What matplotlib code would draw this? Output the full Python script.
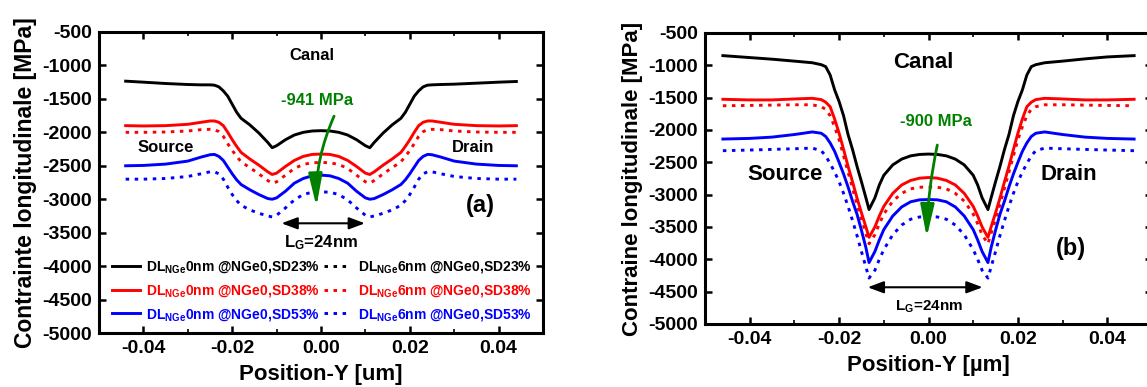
import matplotlib
matplotlib.use("Agg")
import matplotlib.pyplot as plt
from matplotlib.lines import Line2D
from matplotlib.ticker import MultipleLocator

plt.rcParams['font.family'] = ['Liberation Sans', 'DejaVu Sans']
plt.rcParams['font.weight'] = 'bold'
plt.rcParams['axes.unicode_minus'] = False
plt.rcParams['mathtext.fontset'] = 'custom'
plt.rcParams['mathtext.rm'] = 'Liberation Sans:bold'
plt.rcParams['mathtext.bf'] = 'Liberation Sans:bold'
plt.rcParams['mathtext.it'] = 'Liberation Sans:bold'
plt.rcParams['mathtext.default'] = 'rm'

# ---------------- data: panel (a) ----------------
xA = [-0.044, -0.040, -0.035, -0.030, -0.027, -0.025, -0.024, -0.023, -0.022, -0.021, -0.020,
      -0.019, -0.018, -0.016, -0.014, -0.012, -0.011, -0.010, -0.008, -0.006, -0.004, -0.002,
      0.0,
      0.002, 0.004, 0.006, 0.008, 0.010, 0.011, 0.012, 0.014, 0.016, 0.018, 0.019,
      0.020, 0.021, 0.022, 0.023, 0.024, 0.025, 0.027, 0.030, 0.035, 0.040, 0.044]
a_black_0nm_sd23 = [-1235, -1250, -1270, -1285, -1290, -1290, -1295, -1320, -1380, -1460, -1580,
                    -1700, -1790, -1890, -2010, -2150, -2230, -2200, -2110, -2040, -2000, -1980,
                    -1975,
                    -1980, -2000, -2040, -2110, -2200, -2230, -2150, -2010, -1890, -1790, -1700,
                    -1580, -1460, -1380, -1320, -1295, -1290, -1285, -1280, -1265, -1250, -1240]
a_red_0nm_sd38 = [-1900, -1905, -1900, -1880, -1850, -1830, -1830, -1850, -1900, -2000, -2110,
                  -2210, -2300, -2400, -2490, -2590, -2630, -2610, -2510, -2420, -2360, -2330,
                  -2325,
                  -2330, -2360, -2420, -2510, -2610, -2630, -2590, -2490, -2400, -2300, -2210,
                  -2110, -2000, -1900, -1850, -1830, -1830, -1850, -1880, -1900, -1905, -1900]
a_red_6nm_sd38 = [-2000, -2000, -1995, -1980, -1960, -1955, -1960, -1990, -2060, -2170, -2270,
                  -2360, -2440, -2530, -2620, -2720, -2760, -2740, -2640, -2540, -2480, -2455,
                  -2450,
                  -2455, -2480, -2540, -2640, -2740, -2760, -2720, -2620, -2530, -2440, -2360,
                  -2270, -2170, -2060, -1990, -1960, -1955, -1960, -1980, -1995, -2000, -2000]
a_blue_0nm_sd53 = [-2500, -2495, -2475, -2430, -2370, -2335, -2330, -2360, -2420, -2520, -2620,
                   -2710, -2780, -2860, -2930, -2990, -3000, -2980, -2880, -2760, -2690, -2650,
                   -2640,
                   -2650, -2690, -2760, -2880, -2980, -3000, -2990, -2930, -2860, -2780, -2710,
                   -2620, -2520, -2420, -2360, -2330, -2335, -2370, -2430, -2475, -2495, -2500]
a_blue_6nm_sd53 = [-2700, -2700, -2690, -2660, -2620, -2590, -2590, -2620, -2700, -2820, -2930,
                   -3020, -3090, -3160, -3210, -3250, -3265, -3240, -3130, -3010, -2930, -2895,
                   -2890,
                   -2895, -2930, -3010, -3130, -3240, -3265, -3250, -3210, -3160, -3090, -3020,
                   -2930, -2820, -2700, -2620, -2590, -2590, -2620, -2660, -2690, -2700, -2700]

# ---------------- data: panel (b) ----------------
xB = [-0.046, -0.040, -0.035, -0.030, -0.026, -0.024, -0.023, -0.022, -0.021, -0.020, -0.019,
      -0.018, -0.017, -0.016, -0.015, -0.014, -0.0133, -0.012, -0.011, -0.010, -0.008, -0.006,
      -0.004, -0.002, 0.0,
      0.002, 0.004, 0.006, 0.008, 0.010, 0.011, 0.012, 0.0133, 0.014, 0.015, 0.016, 0.017,
      0.018, 0.019, 0.020, 0.021, 0.022, 0.023, 0.024, 0.026, 0.030, 0.035, 0.040, 0.046]
b_black = [-850, -880, -905, -935, -960, -990, -1020, -1150, -1380, -1560, -1780,
           -2070, -2300, -2560, -2800, -3050, -3230, -3050, -2850, -2700, -2540, -2450,
           -2400, -2378, -2372,
           -2378, -2400, -2450, -2540, -2700, -2850, -3050, -3230, -3050, -2800, -2560, -2300,
           -2070, -1780, -1560, -1380, -1150, -1020, -990, -960, -935, -900, -870, -850]
b_red = [-1525, -1535, -1535, -1520, -1510, -1530, -1570, -1640, -1830, -2050, -2300,
         -2560, -2800, -3050, -3280, -3500, -3660, -3500, -3330, -3180, -2980, -2850,
         -2780, -2745, -2735,
         -2745, -2780, -2850, -2980, -3180, -3330, -3500, -3660, -3500, -3280, -3050, -2800,
         -2560, -2300, -2050, -1830, -1640, -1570, -1530, -1510, -1520, -1535, -1535, -1525]
b_red_dot = [-1625, -1620, -1615, -1610, -1610, -1640, -1680, -1780, -1950, -2150, -2400,
             -2650, -2900, -3150, -3380, -3600, -3760, -3620, -3450, -3300, -3100, -2980,
             -2910, -2885, -2880,
             -2885, -2910, -2980, -3100, -3300, -3450, -3620, -3760, -3600, -3380, -3150, -2900,
             -2650, -2400, -2150, -1950, -1780, -1680, -1640, -1610, -1610, -1615, -1620, -1625]
b_blue = [-2140, -2130, -2110, -2070, -2030, -2050, -2100, -2200, -2330, -2500, -2680,
          -2880, -3100, -3300, -3550, -3820, -4050, -3880, -3700, -3540, -3330, -3190,
          -3110, -3080, -3075,
          -3080, -3110, -3190, -3330, -3540, -3700, -3880, -4050, -3820, -3550, -3300, -3100,
          -2880, -2680, -2500, -2330, -2200, -2100, -2050, -2030, -2070, -2110, -2130, -2140]
b_blue_dot = [-2320, -2310, -2300, -2290, -2280, -2320, -2400, -2520, -2650, -2800, -2980,
              -3180, -3400, -3630, -3880, -4120, -4290, -4170, -4000, -3850, -3620, -3470,
              -3380, -3345, -3335,
              -3345, -3380, -3470, -3620, -3850, -4000, -4170, -4290, -4120, -3880, -3630, -3400,
              -3180, -2980, -2800, -2650, -2520, -2400, -2320, -2280, -2290, -2300, -2310, -2320]

xticks = [-0.04, -0.02, 0.00, 0.02, 0.04]
xticklabels = ['-0.04', '-0.02', '0.00', '0.02', '0.04']
yticks = [-500, -1000, -1500, -2000, -2500, -3000, -3500, -4000, -4500, -5000]

legend_labels = [r'DL$_{NGe}$0nm @NGe0,SD23%', r'DL$_{NGe}$0nm @NGe0,SD38%',
                 r'DL$_{NGe}$0nm @NGe0,SD53%', r'DL$_{NGe}$6nm @NGe0,SD23%',
                 r'DL$_{NGe}$6nm @NGe0,SD38%', r'DL$_{NGe}$6nm @NGe0,SD53%']

GREEN = '#008000'
LW = 2.1
DOT = (0, (1.2, 1.9))

W, H = 1147, 387
fig = plt.figure(figsize=(W / 100, H / 100), dpi=100)
axA = fig.add_axes([99 / W, (H - 333) / H, 444 / W, 301 / H])
axB = fig.add_axes([705 / W, (H - 324) / H, 447 / W, 291 / H])

for ax in (axA, axB):
    ax.set_xlim(-0.05, 0.05)
    ax.set_ylim(-5000, -500)
    ax.set_xticks(xticks)
    ax.set_xticklabels(xticklabels)
    ax.set_yticks(yticks)
    ax.xaxis.set_minor_locator(MultipleLocator(0.01))
    ax.tick_params(which='both', direction='in', top=True, right=True, labelsize=14,
                   width=1.8, pad=5)
    ax.tick_params(which='major', length=5)
    ax.tick_params(which='minor', length=3, width=1.2)
    for s in ax.spines.values():
        s.set_linewidth(2.2)
    for lab in ax.get_xticklabels() + ax.get_yticklabels():
        lab.set_fontweight('bold')

# panel (a)
axA.plot(xA, a_black_0nm_sd23, color='black', lw=LW)
axA.plot(xA, a_red_0nm_sd38, color='red', lw=LW)
axA.plot(xA, a_red_6nm_sd38, color='red', lw=LW, ls=DOT)
axA.plot(xA, a_blue_0nm_sd53, color='blue', lw=LW)
axA.plot(xA, a_blue_6nm_sd53, color='blue', lw=LW, ls=DOT)

axA.text(-0.002, -850, 'Canal', ha='center', va='center', fontsize=12, fontweight='bold')
axA.text(-0.035, -2225, 'Source', ha='center', va='center', fontsize=12, fontweight='bold')
axA.text(0.0343, -2225, 'Drain', ha='center', va='center', fontsize=12, fontweight='bold')
axA.text(-0.0008, -1525, '-941 MPa', ha='center', va='center', fontsize=12,
         fontweight='bold', color=GREEN)
axA.annotate('', xy=(-0.001, -3150), xytext=(0.0032, -1720),
             arrowprops=dict(arrowstyle='-|>,head_length=1.4,head_width=0.3', color=GREEN,
                             lw=2, connectionstyle='arc3,rad=0.12', mutation_scale=14))
axA.text(0.036, -3100, '(a)', ha='center', va='center', fontsize=17, fontweight='bold')
axA.annotate('', xy=(-0.0089, -3360), xytext=(0.0099, -3360),
             arrowprops=dict(arrowstyle='<|-|>,head_length=0.8,head_width=0.3', color='black',
                             lw=1.5, mutation_scale=12, shrinkA=0, shrinkB=0))
axA.text(0.0, -3650, r'L$_G$=24nm', ha='center', va='center', fontsize=12, fontweight='bold')

handles = [Line2D([], [], color='black', lw=LW), Line2D([], [], color='red', lw=LW),
           Line2D([], [], color='blue', lw=LW), Line2D([], [], color='black', lw=LW, ls=DOT),
           Line2D([], [], color='red', lw=LW, ls=DOT), Line2D([], [], color='blue', lw=LW, ls=DOT)]
leg = axA.legend(handles, legend_labels, ncol=2, frameon=False, loc='upper left',
                 bbox_to_anchor=(0.03, 0.245), borderpad=0, borderaxespad=0,
                 handlelength=2.0, handletextpad=0.45, columnspacing=0.25, labelspacing=0.55,
                 prop={'size': 10, 'weight': 'bold'}, labelcolor='linecolor')

axA.set_xlabel('Position-Y [um]', fontsize=16, fontweight='bold', labelpad=5)
axA.set_ylabel('Contrainte longitudinale [MPa]', fontsize=16.5, fontweight='bold', labelpad=4)

# panel (b)
axB.plot(xB, b_black, color='black', lw=LW)
axB.plot(xB, b_red, color='red', lw=LW)
axB.plot(xB, b_red_dot, color='red', lw=LW, ls=DOT)
axB.plot(xB, b_blue, color='blue', lw=LW)
axB.plot(xB, b_blue_dot, color='blue', lw=LW, ls=DOT)

axB.text(-0.0012, -955, 'Canal', ha='center', va='center', fontsize=16, fontweight='bold')
axB.text(-0.0322, -2687, 'Source', ha='center', va='center', fontsize=16, fontweight='bold')
axB.text(0.0314, -2687, 'Drain', ha='center', va='center', fontsize=16, fontweight='bold')
axB.text(0.0017, -1864, '-900 MPa', ha='center', va='center', fontsize=12,
         fontweight='bold', color=GREEN)
axB.annotate('', xy=(-0.0004, -3700), xytext=(0.0021, -2190),
             arrowprops=dict(arrowstyle='-|>,head_length=1.4,head_width=0.3', color=GREEN,
                             lw=2, connectionstyle='arc3,rad=0.05', mutation_scale=14))
axB.text(0.0318, -3828, '(b)', ha='center', va='center', fontsize=17, fontweight='bold')
axB.annotate('', xy=(-0.0136, -4432), xytext=(0.0121, -4432),
             arrowprops=dict(arrowstyle='<|-|>,head_length=0.8,head_width=0.3', color='black',
                             lw=1.5, mutation_scale=12, shrinkA=0, shrinkB=0))
axB.text(0.0, -4741, r'L$_G$=24nm', ha='center', va='center', fontsize=11, fontweight='bold')

axB.set_xlabel('Position-Y [µm]', fontsize=16, fontweight='bold', labelpad=5)
axB.set_ylabel('Contraine longitudinale [MPa]', fontsize=16, fontweight='bold', labelpad=4)

fig.savefig('out.png', dpi=100)
